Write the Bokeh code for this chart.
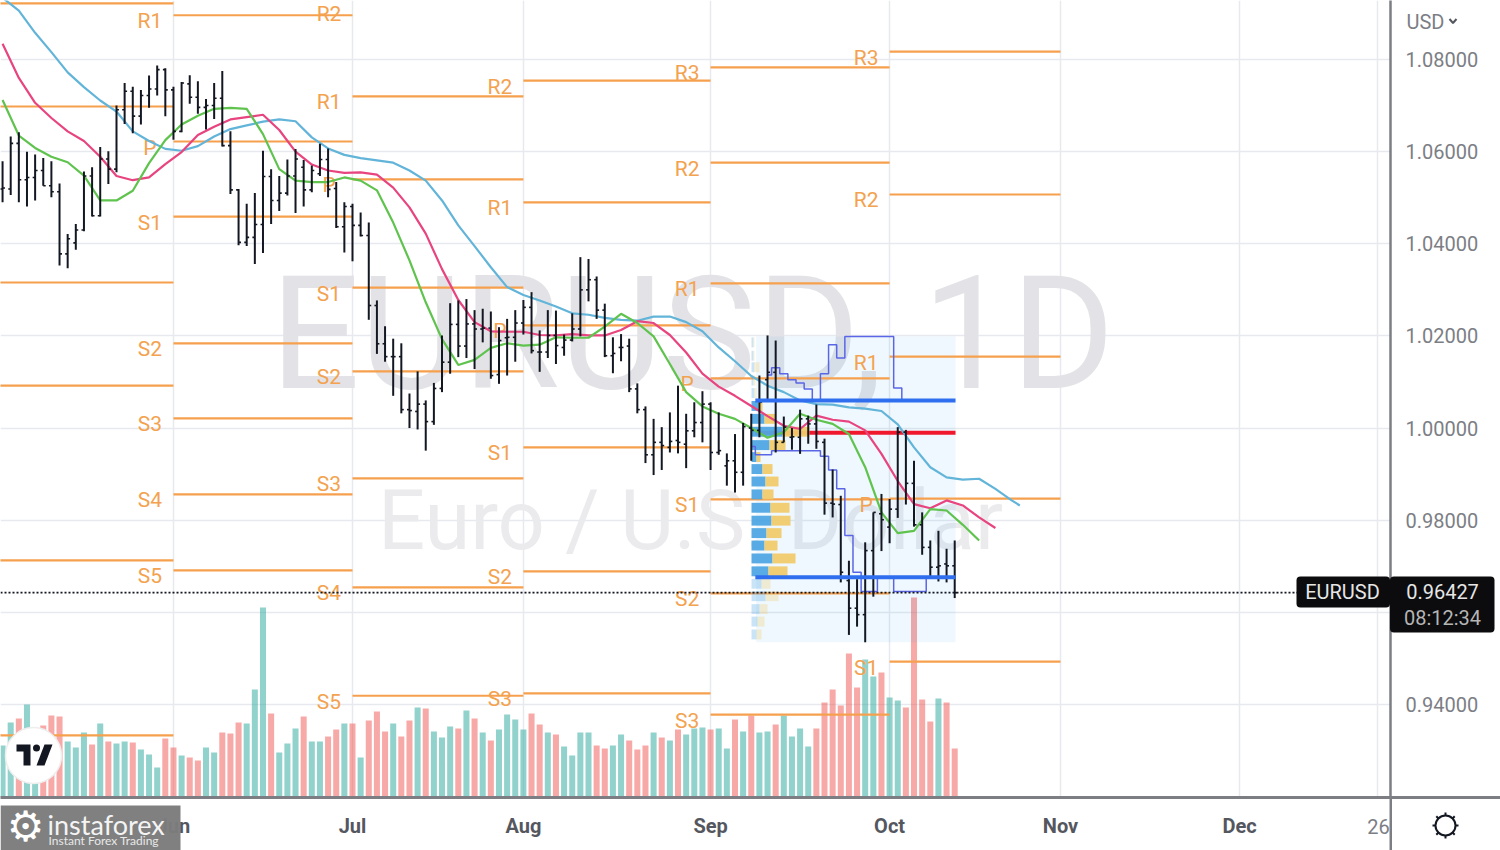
import math
from bokeh.plotting import figure
from bokeh.layouts import column
from bokeh.models import (Range1d, FixedTicker, Span, ColumnDataSource, PrintfTickFormatter)
from bokeh.core.properties import value
from bokeh.embed import file_html
from bokeh.resources import INLINE

# ------------------------------------------------------------------ data
first_bar = -43   # bar index relative to 1 Jul
highs = [1.0579,1.0633,1.0642,1.0600,1.0594,1.0586,1.0579,1.0531,1.0421,1.0443,1.0557,1.0566,1.0610,1.0601,1.0700,1.0749,1.0741,1.0734,1.0765,1.0787,1.0781,1.0741,1.0751,1.0766,1.0753,1.0714,1.0749,1.0775,1.0644,1.0519,1.0487,1.0510,1.0602,1.0562,1.0547,1.0583,1.0606,1.0582,1.0570,1.0617,1.0607,1.0534,1.0490,
 1.0487,1.0468,1.0446,1.0277,1.0221,1.0194,1.0184,1.0075,1.0123,1.0060,1.0098,1.0201,1.0271,1.0277,1.0280,1.0256,1.0259,1.0253,1.0219,1.0237,1.0256,1.0278,1.0295,1.0212,1.0256,1.0255,1.0203,1.0249,1.0371,1.0367,1.0329,1.0270,1.0197,1.0204,1.0194,1.0097,1.0047,1.0020,1.0002,1.0034,1.0092,1.0031,1.0056,1.0080,1.0056,1.0034,.9945,.9987,
 1.0011,1.0031,1.0114,1.0201,1.0190,1.0025,1.0000,1.0040,1.0027,1.0051,.9977,.9910,.9853,.9712,.9672,.9752,.9817,.9857,.9846,1.0002,.9996,.9929,.9817,.9756,.9777,.9738,.9756]
lows = [1.0490,1.0506,1.0490,1.0481,1.0494,1.0526,1.0501,1.0353,1.0347,1.0387,1.0427,1.0459,1.0459,1.0530,1.0555,1.0660,1.0640,1.0659,1.0695,1.0722,1.0677,1.0626,1.0642,1.0704,1.0682,1.0648,1.0671,1.0611,1.0508,1.0397,1.0395,1.0356,1.0380,1.0443,1.0471,1.0505,1.0467,1.0481,1.0512,1.0547,1.0501,1.0434,1.0381,
 1.0362,1.0416,1.0235,1.0161,1.0144,1.0070,1.0032,1.0000,.9997,.9951,1.0007,1.0078,1.0118,1.0154,1.0152,1.0128,1.0186,1.0107,1.0096,1.0114,1.0144,1.0203,1.0162,1.0122,1.0152,1.0139,1.0157,1.0188,1.0199,1.0275,1.0237,1.0154,1.0119,1.0145,1.0078,1.0032,.9924,.9898,.9909,.9947,.9945,.9913,.9980,.9969,.9909,.9942,.9875,.9860,
 .9875,.9929,.9980,1.0060,.9947,.9969,.9953,.9944,.9966,.9955,.9812,.9806,.9665,.9551,.9569,.9535,.9634,.9733,.9750,.9805,.9834,.9786,.9725,.9678,.9667,.9665,.9631]
opens = [1.0519,1.0519,1.0618,1.0539,1.0544,1.0559,1.0526,1.0513,1.0378,1.0402,1.0430,1.0547,1.0461,1.0584,1.0562,1.0691,1.0731,1.0677,1.0722,1.0736,1.0778,1.0734,1.0644,1.0747,1.0718,1.0696,1.0700,1.0716,1.0613,1.0517,1.0403,1.0414,1.0442,1.0546,1.0494,1.0510,1.0547,1.0566,1.0517,1.0552,1.0583,1.0520,1.0437,
 1.0481,1.0440,1.0418,1.0266,1.0183,1.0155,1.0155,1.0040,1.0036,1.0052,1.0014,1.0086,1.0143,1.0225,1.0178,1.0226,1.0215,1.0217,1.0116,1.0196,1.0197,1.0228,1.0262,1.0165,1.0165,1.0201,1.0175,1.0191,1.0215,1.0300,1.0322,1.0256,1.0157,1.0175,1.0178,1.0085,1.0040,.9942,.9969,.9958,.9973,.9965,.9994,1.0012,1.0052,.9947,.9918,.9929,
 .9904,1.0000,.9995,1.0105,1.0121,.9969,.9980,.9980,1.0020,1.0009,.9969,.9837,.9834,.9669,.9609,.9595,.9734,.9814,.9785,.9824,.9991,.9880,.9790,.9741,.9698,.9705,.9701]
closes = [1.0521,1.0618,1.0539,1.0544,1.0559,1.0526,1.0513,1.0378,1.0411,1.0430,1.0547,1.0461,1.0584,1.0562,1.0691,1.0731,1.0677,1.0722,1.0736,1.0778,1.0734,1.0644,1.0749,1.0718,1.0696,1.0700,1.0716,1.0613,1.0517,1.0403,1.0414,1.0442,1.0546,1.0494,1.0510,1.0547,1.0584,1.0517,1.0559,1.0583,1.0518,1.0437,1.0481,
 1.0440,1.0418,1.0266,1.0183,1.0155,1.0155,1.0040,1.0038,1.0052,1.0014,1.0086,1.0143,1.0225,1.0178,1.0226,1.0215,1.0217,1.0114,1.0190,1.0197,1.0228,1.0262,1.0168,1.0165,1.0201,1.0179,1.0191,1.0215,1.0300,1.0322,1.0256,1.0157,1.0162,1.0175,1.0085,1.0040,.9942,.9969,.9962,.9971,.9969,.9994,1.0012,1.0052,.9947,.9951,.9929,.9904,
 1.0003,.9995,1.0056,1.0121,.9969,1.0002,.9981,1.0020,1.0009,.9971,.9837,.9835,.9687,.9609,.9595,.9734,.9817,.9801,.9824,.9991,.9880,.9790,.9741,.9698,.9701,.9701,.96427]
volumes = [52,75,79,93,70,72,82,81,56,50,65,53,74,56,54,56,55,48,43,30,59,50,42,40,37,50,45,65,64,75,74,108,190,84,45,54,69,81,56,56,61,68,74,
 74,40,77,86,66,74,61,77,90,89,66,60,71,69,87,79,65,57,68,83,78,68,84,73,65,63,51,42,65,65,52,49,52,63,57,48,52,65,60,57,68,63,69,70,68,69,49,78,66,82,65,66,73,82,61,69,51,69,95,108,92,144,110,138,121,125,100,97,90,200,98,76,99,95,49]
vol_dirs = ("TTPTTPPPTTTPTPTTPTTTPPTPPTTPPPTTTPTTTPTTPPT"
            "PTPPPTPPTPTTTPTP" "TPTTTT" "PPTPTTTT" "PPTTPPPT" "PTPTTTPT" "TPTPTTPT" "TTTPPPPPP" "TTPTTPPPPTPP")

ma_bars = list(range(-43, 82, 2)) + [82]
ma_blue = [1.0934,1.0906,1.0858,1.0816,1.0772,1.0740,1.0711,1.0687,1.0644,1.0623,1.0606,1.0602,1.0612,1.0633,1.0649,1.0657,1.0665,1.0670,1.0666,1.0631,1.0607,1.0593,1.0586,
 1.0581,1.0576,1.0559,1.0537,1.0494,1.0440,1.0395,1.0349,1.0306,1.0289,1.0277,1.0264,1.0249,1.0246,1.0239,1.0235,1.0233,1.0242,1.0242,1.0230,1.0210,1.0175,1.0145,
 1.0113,1.0092,1.0078,1.0060,1.0052,1.0051,1.0045,1.0042,1.0037,1.0008,.9958,.9915,.9893,.9888,.9890,.9868,.9843,.9832]
ma_pink = [1.0834,1.0760,1.0706,1.0673,1.0644,1.0623,1.0589,1.0547,1.0538,1.0544,1.0573,1.0599,1.0636,1.0654,1.0670,1.0675,1.0680,1.0647,1.0600,1.0572,1.0559,1.0554,1.0555,
 1.0550,1.0522,1.0479,1.0422,1.0345,1.0278,1.0230,1.0210,1.0209,1.0209,1.0202,1.0201,1.0204,1.0201,1.0201,1.0213,1.0232,1.0228,1.0202,1.0164,1.0118,1.0090,1.0070,
 1.0048,1.0026,1.0005,.9998,1.0027,1.0018,1.0014,.9995,.9944,.9885,.9835,.9826,.9843,.9832,.9806,.9783]
ma_green = [1.0712,1.0635,1.0608,1.0589,1.0577,1.0548,1.0494,1.0494,1.0515,1.0575,1.0625,1.0659,1.0678,1.0693,1.0695,1.0693,1.0638,1.0562,1.0537,1.0534,1.0534,1.0544,1.0537,
 1.0516,1.0446,1.0364,1.0273,1.0193,1.0137,1.0148,1.0174,1.0184,1.0179,1.0181,1.0197,1.0196,1.0196,1.0220,1.0248,1.0228,1.0199,1.0139,1.0078,1.0047,1.0031,1.0020,
 1.0000,.9979,.9991,1.0031,1.0018,1.0009,.9987,.9915,.9817,.9772,.9777,.9824,.9821,.9790,.9756]

# pivot periods: start bar, end bar, level names, level prices
pivot_may = (-66, -22, ["","","","","",""], [1.0922,1.0698,1.0316,1.0092,.9713,.9333])
pivot_jun = (-22, 0, ["R1","P","S1","S2","S3","S4","S5"], [1.0896,1.0622,1.0459,1.0184,1.0021,.9856,.9691])
pivot_jul = (0, 21, ["R1","P","S1","S2","S3","S4","S5"], [1.0720,1.0540,1.0305,1.0123,.9891,.9654,.9419])
pivot_aug = (21, 44, ["R2","R1","P","S1","S2","S3"], [1.0754,1.0490,1.0223,.9958,.9689,.9424])
pivot_sep = (44, 66, ["R3","R2","R1","P","S1","S2","S3"], [1.0783,1.0576,1.0314,1.0108,.9845,.9641,.9378])
pivot_oct = (66, 87, ["R3","R2","R1","P","S1"], [1.0817,1.0507,1.0155,.9847,.9493])

# volume profile rows
vp_prices = [1.0186,1.0157,1.0132,1.0103,1.0076,1.0048,1.0020,.9992,.9963,.9937,.9911,.9884,.9856,.9827,.9799,.9772,.9745,.9717,.9689,.9662,.9635,.9607,.9580,.9552]
vp_buy = [2,2,3,2,3,7,13,31,18,5,11,14,11,19,20,15,13,21,17,10,14,8,6,5]
vp_sell = [1,1,5,2,2,4,11,27,16,4,10,13,11,19,19,15,13,23,19,9,13,8,7,5]
vp_high, vp_low, vp_poc, vp_vah, vp_val = 1.0199, .9535, .9990, 1.0060, .9676
vp_first_bar, vp_last_bar = 49.5, 74.1

channel_up_bars = [51,52,53,54,55,56,57,58,59,60,61,62,63,64,65,66,67,68]
channel_up = [1.0115,1.0131,1.0118,1.0105,1.0098,1.0085,1.0060,1.0118,1.0181,1.0152,1.0199,1.0199,1.0199,1.0199,1.0199,1.0199,1.0087,1.0060]
channel_dn_bars = [49,50,51,52,53,54,55,56,57,58,59,60,61,62,63,64,65,66,67,68,69,70,71]
channel_dn = [.9960,.9942,.9942,.9951,.9951,.9951,.9951,.9951,.9951,.9939,.9909,.9868,.9767,.9687,.9645,.9645,.9675,.9675,.9645,.9645,.9645,.9645,.9675]

price_ticks = [.94,.96,.98,1.00,1.02,1.04,1.06,1.08]
month_ticks = [-22,0,21,44,66,87,109]
month_labels = ["Jun","Jul","Aug","Sep","Oct","Nov","Dec"]
last_price = .96427

# ------------------------------------------------------------------ page-pixel helpers
K = 8.138
PX = 4607.0
def X(px): return (px-352)/K
def Y(py): return 1.08-(py-59)/PX

p = figure(width=1500, height=850, output_backend="svg", toolbar_location=None,
           x_range=Range1d(X(0), X(1390)), y_range=Range1d(Y(797), Y(0)),
           y_axis_location="right", x_axis_location="below",
           min_border_left=0, min_border_top=0, min_border_right=110, min_border_bottom=53,
           outline_line_color=None, background_fill_color="white", border_fill_color="white")
p.extra_y_ranges = {"vol": Range1d(0, 797)}
p.extra_x_ranges = {"vp": Range1d(0-751, 1390-751)}

# axes and grid
GRID = "#e8e9ee"
AX = "#7d7e83"
p.yaxis.ticker = FixedTicker(ticks=price_ticks)
p.yaxis.formatter = PrintfTickFormatter(format="%.5f")
p.yaxis.major_tick_line_color = None
p.yaxis.minor_tick_line_color = None
p.yaxis.major_label_standoff = 9
p.yaxis.major_label_text_font = "Roboto"
p.yaxis.major_label_text_font_size = "20px"
p.yaxis.major_label_text_color = "#7c7e85"
p.yaxis.axis_line_color = AX
p.yaxis.axis_line_width = 2.5

p.xaxis.ticker = FixedTicker(ticks=month_ticks)
p.xaxis.major_label_overrides = dict(zip(month_ticks, month_labels))
p.xaxis.major_tick_line_color = None
p.xaxis.minor_tick_line_color = None
p.xaxis.major_label_standoff = 10
p.xaxis.major_label_text_font = "Roboto"
p.xaxis.major_label_text_font_style = "bold"
p.xaxis.major_label_text_font_size = "20px"
p.xaxis.major_label_text_color = "#55575f"
p.xaxis.axis_line_color = AX
p.xaxis.axis_line_width = 3

p.xgrid.ticker = FixedTicker(ticks=month_ticks+[126])
p.ygrid.ticker = FixedTicker(ticks=price_ticks)
p.xgrid.grid_line_color = GRID
p.ygrid.grid_line_color = GRID
p.xgrid.grid_line_width = 1.5
p.ygrid.grid_line_width = 1.5

# watermarks
p.text(x=[X(692)], y=[Y(333)], text=["EURUSD, 1D"], text_font=value("Roboto"),
       text_font_size="158px", text_color="#e3e3e7", text_align="center", text_baseline="middle")
p.text(x=[X(690)], y=[Y(520)], text=["Euro / U.S. Dollar"], text_font=value("Roboto"),
       text_font_size="83px", text_color="#ebebee", text_align="center", text_baseline="middle")

# volume
bars = list(range(first_bar, first_bar+len(closes)))
vsrc = ColumnDataSource(dict(x=bars, top=volumes,
        c=["#26a69a" if d == "T" else "#ef5350" for d in vol_dirs]))
p.vbar(x="x", top="top", bottom=0, width=0.74, fill_color="c", fill_alpha=0.5, line_color=None,
       y_range_name="vol", source=vsrc)

# profile background
p.quad(left=[vp_first_bar+0.1], right=[vp_last_bar], top=[vp_high], bottom=[vp_low],
       fill_color="#2196f3", fill_alpha=0.07, line_color=None)

# pivots
PIV = "#f6a04d"
PIV_T = "#f3a24f"
for start, end, names, levels in (pivot_may, pivot_jun, pivot_jul, pivot_aug, pivot_sep, pivot_oct):
    p.segment(x0=[start]*len(levels), x1=[end]*len(levels), y0=levels, y1=levels,
              line_color=PIV, line_width=2.2)
    p.text(x=[start-23.5/K]*len(levels), y=[l-6/PX for l in levels], text=names,
           text_font=value("Roboto"), text_font_size="21px", text_color=PIV_T,
           text_align="center", text_baseline="middle")
# July R2 lies at the very top edge of the chart
p.text(x=[-23.5/K], y=[Y(13)], text=["R2"], text_font=value("Roboto"), text_font_size="21px",
       text_color=PIV_T, text_align="center", text_baseline="middle")

# price line
p.add_layout(Span(location=last_price, dimension="width", line_color="#131722", line_width=1.7,
                  line_dash="2 2"))

# profile levels below histogram
p.segment(x0=[vp_first_bar], x1=[vp_last_bar], y0=[vp_poc], y1=[vp_poc], line_color="#f0182c", line_width=4)

# profile histogram
inside = [0.95 if vp_val < y < vp_vah+.0001 else 0.3 for y in vp_prices]
p.hbar(y=vp_prices, left=[0]*len(vp_buy), right=vp_buy, height=.00215, fill_color="#4fa6e3",
       fill_alpha=inside, line_color=None, x_range_name="vp")
p.hbar(y=vp_prices, left=vp_buy, right=[b+s for b, s in zip(vp_buy, vp_sell)], height=.00215,
       fill_color="#f0cb6c", fill_alpha=inside, line_color=None, x_range_name="vp")

# channel outline
p.step(channel_up_bars, channel_up, mode="center", line_color="#5b66e6", line_width=1.5)
p.step(channel_dn_bars, channel_dn, mode="center", line_color="#5b66e6", line_width=1.5)

# moving averages
p.line(ma_bars[:len(ma_blue)], ma_blue, line_color="#62b4d9", line_width=2.2)
p.line(ma_bars[:len(ma_pink)], ma_pink, line_color="#e8447f", line_width=2.2)
p.line(ma_bars[:len(ma_green)], ma_green, line_color="#5fc34e", line_width=2.2)

# OHLC bars
BAR = "#131722"
p.segment(x0=bars, x1=bars, y0=lows, y1=highs, line_color=BAR, line_width=2)
p.segment(x0=[b-0.3 for b in bars], x1=bars, y0=opens, y1=opens, line_color=BAR, line_width=1.6)
p.segment(x0=bars, x1=[b+0.3 for b in bars], y0=closes, y1=closes, line_color=BAR, line_width=1.6)

# value area lines on top
p.segment(x0=[vp_first_bar]*2, x1=[vp_last_bar]*2, y0=[vp_vah, vp_val], y1=[vp_vah, vp_val],
          line_color="#2f6fef", line_width=4)

# TradingView badge
p.scatter(x=[X(33)], y=[Y(755)], size=56, marker="circle", fill_color="white", line_color="#eeeeee", line_width=1.5)
p.patches(xs=[[X(a) for a in (16,30,30,23,23,16)], [X(a) for a in (44,52,44,36)]],
          ys=[[Y(b) for b in (744,744,765,765,751,751)], [Y(b) for b in (744,744,765,765)]],
          fill_color="#131722", line_color=None)
p.scatter(x=[X(36)], y=[Y(747.5)], size=7, marker="circle", fill_color="#131722", line_color=None)

# ------------------------------------------------------------------ overlay for what lies outside the plot frame
ov = figure(frame_width=1500, frame_height=850, output_backend="svg", toolbar_location=None,
            x_range=Range1d(0, 1500), y_range=Range1d(850, 0),
            x_axis_location=None, y_axis_location=None,
            min_border=0, min_border_left=0, min_border_right=0, min_border_top=0, min_border_bottom=0,
            outline_line_color=None, background_fill_color=None, border_fill_color=None,
            styles={"position": "absolute", "left": "0", "top": "0", "pointer-events": "none"})
ov.grid.visible = False

def lab(px, py, text, font="Roboto", size=20, color="#7c7e85", align="left", style="normal"):
    ov.text(x=[px], y=[py], text=[text], text_font=value(font), text_font_size=f"{size}px",
            text_color=color, text_align=align, text_baseline="middle", text_font_style=style)

def box(l, r, t, b, color, alpha=1.0, radius=0):
    ov.quad(left=[l], right=[r], top=[t], bottom=[b], fill_color=color, fill_alpha=alpha,
            line_color=None, border_radius=radius)

# axis continuation
box(1389, 1391.5, 797, 850, AX)
box(1390, 1500, 795.5, 798.5, AX)

# last-price tags
box(1296, 1389.5, 576, 607, "#0c0c0e", radius=4)
box(1389.5, 1494, 576, 632, "#0c0c0e", radius=4)
lab(1342, 591, "EURUSD", color="#e6e6e6", align="center")
lab(1442, 591, "0.96427", color="#e6e6e6", align="center")
lab(1442, 617, "08:12:34", color="#b5b5b5", align="center")

# right-axis head
lab(1406, 21, "USD", size=20)
ov.line([1449, 1452.5, 1456], [18.5, 22.5, 18.5], line_color="#55575f", line_width=2)

# axis label continued
lab(1378, 826, "26", size=20, align="center")

# settings icon
ov.scatter(x=[1445], y=[825], size=20, marker="circle", fill_color=None, line_color="#131722", line_width=2)
angles = [i*math.pi/4 for i in range(8)]
ov.segment(x0=[1445+10*math.cos(a) for a in angles], y0=[825+10*math.sin(a) for a in angles],
           x1=[1445+13*math.cos(a) for a in angles], y1=[825+13*math.sin(a) for a in angles],
           line_color="#131722", line_width=2)

# broker badge
box(0, 180, 805, 850, "#7c7c7c", alpha=0.97)
lab(25, 826, "⚙", font="DejaVu Sans", size=42, color="white", align="center")
lab(47, 824, "instaforex", font="Lato", size=27, color="#f4f4f4")
lab(48, 840, "Instant Forex Trading", font="Lato", size=12, color="#e8e8e8")

open("out.html", "w").write(file_html(column(p, ov), INLINE))
